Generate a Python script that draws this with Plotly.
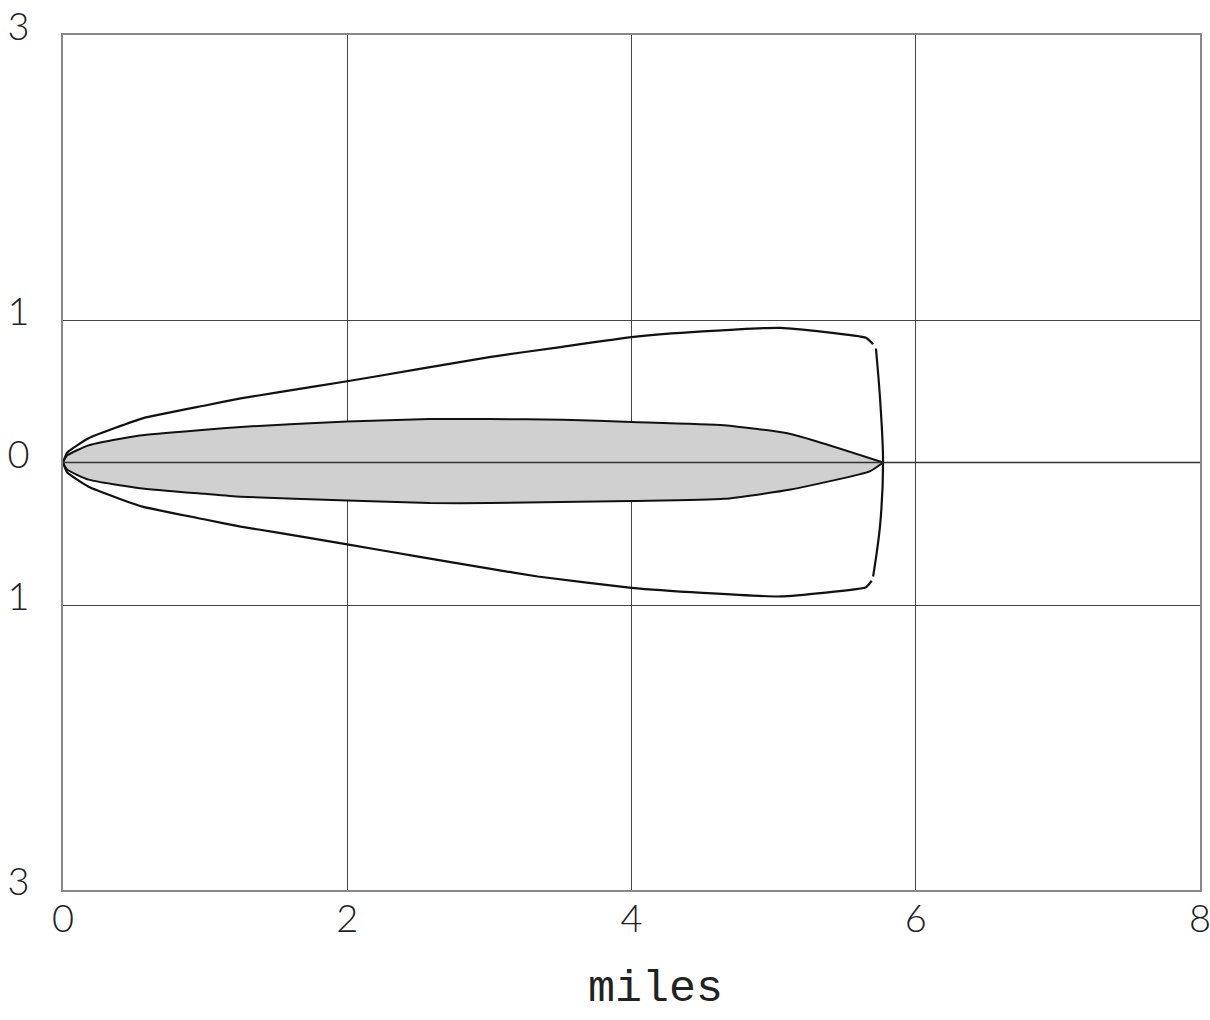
import plotly.graph_objects as go

# Outer envelope (upper and lower flanks), distances in miles
outer_upper_x = [0, 0.03, 0.18, 0.56, 1.0, 1.25, 1.5, 2.0, 2.5, 3.0, 3.5, 4.0, 4.5, 5.05, 5.65, 5.70]
outer_upper_y = [0, 0.07, 0.17, 0.31, 0.40, 0.45, 0.49, 0.57, 0.655, 0.74, 0.81, 0.88, 0.92, 0.945, 0.875, 0.83]
outer_lower_x = [0, 0.03, 0.18, 0.56, 1.0, 1.25, 1.5, 2.0, 2.5, 3.0, 3.34, 4.0, 4.5, 5.05, 5.65, 5.69]
outer_lower_y = [0, -0.07, -0.17, -0.31, -0.40, -0.45, -0.49, -0.575, -0.66, -0.745, -0.80, -0.88, -0.915, -0.94, -0.875, -0.83]

# Downwind cap of the outer envelope
cap_x = [5.72, 5.75, 5.77, 5.75, 5.70]
cap_y = [0.80, 0.43, 0.0, -0.43, -0.80]

# Inner (shaded) zone
inner_upper_x = [0, 0.03, 0.18, 0.54, 1.0, 1.25, 2.0, 2.58, 3.0, 3.52, 4.0, 4.65, 5.12, 5.77]
inner_upper_y = [0, 0.05, 0.12, 0.19, 0.23, 0.25, 0.287, 0.305, 0.305, 0.30, 0.285, 0.262, 0.20, 0.0]
inner_lower_x = [0, 0.03, 0.18, 0.54, 1.0, 1.25, 2.0, 2.58, 3.0, 4.0, 4.65, 5.12, 5.68, 5.77]
inner_lower_y = [0, -0.05, -0.12, -0.18, -0.22, -0.24, -0.266, -0.285, -0.285, -0.27, -0.255, -0.19, -0.06, 0.0]

x_ticks = [0, 2, 4, 6, 8]
y_ticks = [-3, -1, 0, 1, 3]
y_tick_text = ["3", "1", "0", "1", "3"]

fig = go.Figure()

# Shaded inner zone as a closed polygon
poly_x = inner_upper_x + inner_lower_x[::-1]
poly_y = inner_upper_y + inner_lower_y[::-1]
fig.add_trace(go.Scatter(x=poly_x, y=poly_y, mode="lines", fill="toself",
                         fillcolor="#d0d0d0",
                         line=dict(color="#111", width=2, shape="spline", smoothing=0.5),
                         hoverinfo="skip"))

line_style = dict(color="#111", width=2.2, shape="spline", smoothing=0.4)
fig.add_trace(go.Scatter(x=outer_upper_x, y=outer_upper_y, mode="lines", line=line_style))
fig.add_trace(go.Scatter(x=outer_lower_x, y=outer_lower_y, mode="lines", line=line_style))
fig.add_trace(go.Scatter(x=cap_x, y=cap_y, mode="lines",
                         line=dict(color="#111", width=2.2, shape="spline")))

# Centreline drawn over the shading
fig.add_trace(go.Scatter(x=[0, 8], y=[0, 0], mode="lines", line=dict(color="#333", width=1.3)))

tick_font = dict(family="Lato", size=38, color="#222", weight=300)

fig.update_layout(
    width=1210, height=1020,
    margin=dict(l=63, r=10, t=35, b=130, autoexpand=False),
    paper_bgcolor="white", plot_bgcolor="white",
    showlegend=False,
    xaxis=dict(range=[0, 8], tickvals=x_ticks, ticktext=[str(v) for v in x_ticks],
               showgrid=True, gridcolor="#444", gridwidth=1,
               showline=True, linecolor="#888", linewidth=1.5, mirror=True,
               zeroline=False, ticks="", ticklen=0, tickfont=tick_font,
               ticklabelstandoff=-5, ticklabeloverflow="allow", automargin=False),
    yaxis=dict(range=[-3, 3], tickvals=y_ticks, ticktext=y_tick_text,
               showgrid=True, gridcolor="#444", gridwidth=1,
               showline=True, linecolor="#888", linewidth=1.5, mirror=True,
               zeroline=False, ticks="", ticklen=0, tickfont=tick_font,
               ticklabelstandoff=24, ticklabelshift=-8, automargin=False),
    annotations=[dict(text="miles", xref="paper", yref="paper",
                      x=(655 - 63) / 1137, y=(890 - 1017) / 855,
                      xanchor="center", yanchor="bottom", showarrow=False,
                      font=dict(family="Liberation Mono", size=45, color="#222"))],
)

fig.write_html("out.html")
